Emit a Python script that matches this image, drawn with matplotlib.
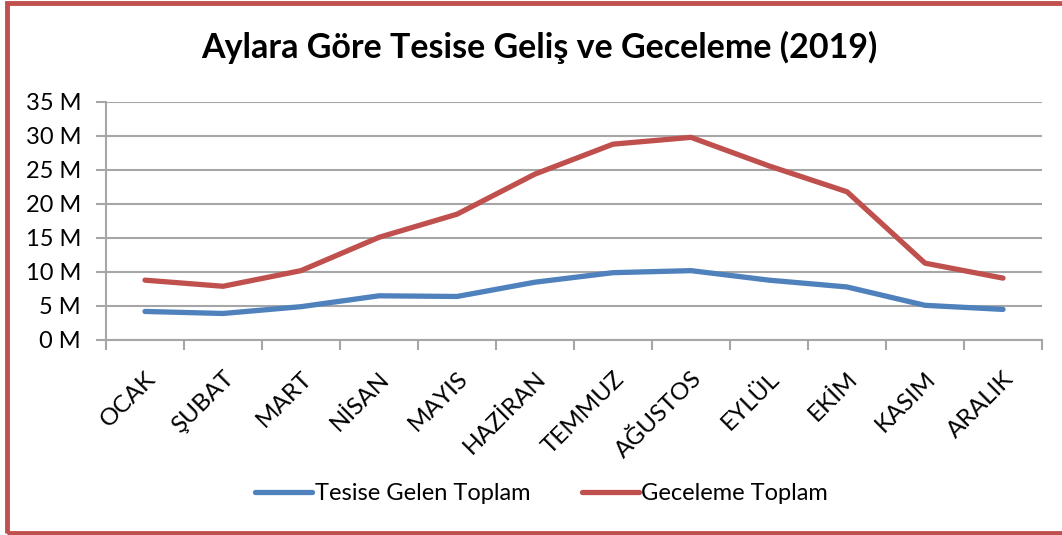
import numpy as np
import matplotlib
matplotlib.use("Agg")
import matplotlib.pyplot as plt
from matplotlib.patches import Rectangle
from matplotlib.ticker import FuncFormatter

plt.rcParams['font.family'] = ['Lato', 'DejaVu Sans']

# veri (milyon)
aylar = ["OCAK", "ŞUBAT", "MART", "NİSAN", "MAYIS", "HAZİRAN",
         "TEMMUZ", "AĞUSTOS", "EYLÜL", "EKİM", "KASIM", "ARALIK"]
gelen = [4.2, 3.9, 4.9, 6.5, 6.4, 8.5, 9.9, 10.2, 8.8, 7.8, 5.1, 4.5]
geceleme = [8.8, 7.9, 10.2, 15.1, 18.5, 24.4, 28.8, 29.8, 25.6, 21.8, 11.3, 9.1]

mavi = '#4F81BD'
kirmizi = '#C0504D'
gri = '#A6A6A6'

fig = plt.figure(figsize=(10.62, 5.35), dpi=100)
ax = fig.add_axes([106/1062, 1 - 340/535, (1042 - 106)/1062, (340 - 102)/535])

x = np.arange(len(aylar))
ax.plot(x, np.array(gelen) * 1e6, color=mavi, lw=3.8, solid_capstyle='round',
        label="Tesise Gelen Toplam")
ax.plot(x, np.array(geceleme) * 1e6, color=kirmizi, lw=3.8, solid_capstyle='round',
        label="Geceleme Toplam")

ax.set_xlim(-0.5, len(aylar) - 0.5)
ax.set_ylim(0, 35e6)
ax.set_yticks(np.arange(0, 36e6, 5e6))
ax.yaxis.set_major_formatter(FuncFormatter(lambda v, p: f"{v/1e6:.0f} M"))
ax.grid(axis='y', color=gri, lw=1.5)
ax.set_axisbelow(True)

ax.set_xticks(x)
ax.set_xticklabels(aylar, rotation=45, ha='right', rotation_mode='anchor')
ax.set_xticks(np.arange(-0.5, len(aylar)), minor=True)
ax.tick_params(axis='x', which='major', length=0, pad=20, labelsize=17.5)
ax.tick_params(axis='x', which='minor', length=7, color=gri, width=1.5, direction='out')
ax.tick_params(axis='y', length=7, color=gri, width=1.5, labelsize=17, pad=11)

for s in ['top', 'right']:
    ax.spines[s].set_visible(False)
for s in ['left', 'bottom']:
    ax.spines[s].set_color(gri)
    ax.spines[s].set_linewidth(1.5)

fig.text(0.508, 1 - 47/535, "Aylara Göre Tesise Geliş ve Geceleme (2019)",
         ha='center', va='center', fontsize=24.5, fontweight='bold')

fig.legend(loc='center', bbox_to_anchor=(0.51, 1 - 494/535), ncol=2, frameon=False,
           fontsize=17, handlelength=2.4, handletextpad=0.1, columnspacing=2.2)

# kırmızı çerçeve
fig.add_artist(Rectangle((7/1062, 2/535), 1.2, 530/535, transform=fig.transFigure,
                         fill=False, edgecolor=kirmizi, lw=3.5))

fig.savefig("out.png", dpi=100)
